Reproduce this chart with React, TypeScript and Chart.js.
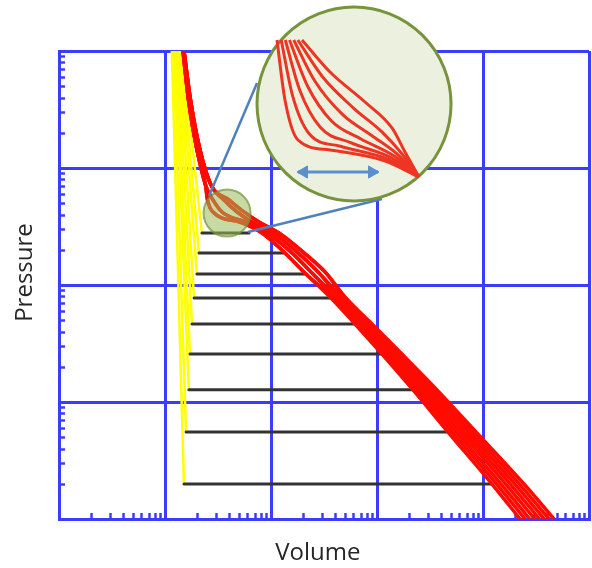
import React, { useEffect, useRef } from "react";
import { Chart, registerables } from "chart.js";

Chart.register(...registerables);

// ---------- axis ranges ----------
const volumeMin = 1;
const volumeMax = 100000;
const pressureMin = 1;
const pressureMax = 10000;

// ---------- coexistence (tie) lines ----------
const tiePressure = [278, 188, 124, 77.4, 46.4, 25.7, 12.7, 5.54, 1.99];
const tieLiquidVolume = [22.3, 20.9, 20.0, 18.8, 17.97, 17.2, 16.8, 15.8, 15.1];
const tieGasVolume = [62.0, 132.6, 213.9, 368.1, 620, 1114, 2186, 4675, 12160];

// ---------- liquid branches (yellow) ----------
const liquidTopPressure = 10000;
const liquidTopVolume = [14.47, 14.15, 13.85, 13.55, 13.1, 12.7, 12.4, 12.0, 11.6];

// ---------- gas branches (red) ----------
const gasPressure = [10000, 3811, 1425, 716, 533, 421, 345, 278, 188, 124, 77.4, 46.4, 25.7, 12.7, 5.54, 1.99, 1];
const gasVolume1 = [15.11, 17.4, 21.39, 27.16, 40.16, 55.63, 77.06, 118.9, 204.8, 337.5, 509.9, 897, 1721, 3681, 8591, 24370, 46750];
const gasVolume2 = [15.11, 17.4, 21.39, 27.16, 40.16, 55.63, 77.06, 118.9, 204.8, 337.5, 487.2, 852, 1616, 3420, 7874, 22050, 42040];
const gasVolume3 = [15.11, 17.4, 21.39, 27.16, 36.02, 47.78, 66.19, 104.5, 179.7, 289.9, 464.6, 806, 1521, 3169, 7219, 19990, 37870];
const gasVolume4 = [15.11, 17.4, 21.39, 27.16, 36.02, 47.78, 66.19, 104.5, 179.7, 289.9, 443.8, 766, 1428, 2944, 6619, 18090, 34050];
const gasVolume5 = [14.79, 16.67, 20.04, 24.11, 28.36, 34.49, 58.1, 91.68, 157.8, 249.0, 423.1, 727, 1343, 2734, 6068, 16380, 30680];
const gasVolume6 = [14.79, 16.67, 20.04, 24.11, 28.36, 34.49, 58.1, 91.68, 157.8, 249.0, 404.2, 690, 1262, 2539, 5563, 14810, 27580];
const gasVolume7 = [14.79, 16.67, 20.04, 24.11, 25.17, 28.36, 50.99, 82.25, 135.5, 213.9, 385.3, 653, 1187, 2354, 5099, 13430, 24850];
const gasVolume8 = [14.79, 16.67, 20.04, 24.11, 25.17, 28.36, 50.99, 82.25, 135.5, 213.9, 368.1, 620, 1114, 2186, 4675, 12160, 22340];
const gasVolumes = [gasVolume1, gasVolume2, gasVolume3, gasVolume4, gasVolume5, gasVolume6, gasVolume7, gasVolume8];

// ---------- magnifier ----------
const lensCenter = { v: 38.5, p: 412 };
const insetCenter = { v: 607, p: 3524 };
const calloutUpperV = [26.0, 73.8];
const calloutUpperP = [576, 5327];
const calloutLowerV = [60.7, 1114];
const calloutLowerP = [283.8, 543.3];

// magnified knee curves shown inside the inset
const zoomVolume1 = [196.1, 360.2, 770.6, 1385, 1838, 2490];
const zoomPressure1 = [12420, 6614, 3665, 2198, 1370, 838];
const zoomVolume2 = [179.0, 306.0, 604.1, 1107, 1710, 2490];
const zoomPressure2 = [12420, 6030, 3238, 2043, 1330, 838];
const zoomVolume3 = [163.8, 260.0, 474.7, 883.5, 1588, 2490];
const zoomPressure3 = [12420, 5508, 2855, 1903, 1291, 838];
const zoomVolume4 = [149.4, 221.0, 372.2, 706.5, 1478, 2490];
const zoomPressure4 = [12420, 5022, 2522, 1770, 1254, 838];
const zoomVolume5 = [136.4, 187.7, 291.8, 564.8, 1376, 2490];
const zoomPressure5 = [12420, 4579, 2228, 1645, 1218, 838];
const zoomVolume6 = [124.8, 159.5, 229.3, 450.6, 1278, 2490];
const zoomPressure6 = [12420, 4182, 1965, 1533, 1182, 838];
const zoomVolume7 = [113.9, 135.5, 179.7, 360.2, 1190, 2490];
const zoomPressure7 = [12420, 3813, 1735, 1425, 1148, 838];
const zoomCurves = [
  [zoomVolume1, zoomPressure1],
  [zoomVolume2, zoomPressure2],
  [zoomVolume3, zoomPressure3],
  [zoomVolume4, zoomPressure4],
  [zoomVolume5, zoomPressure5],
  [zoomVolume6, zoomPressure6],
  [zoomVolume7, zoomPressure7],
];

// double arrow inside the inset
const arrowPressure = 924;
const arrowLineVolume = [179.7, 1022];
const arrowHeadVolume = [204.8, 897];

// ---------- styles ----------
const BLUE = "#3c3cff";
const YELLOW = "#ffff00";
const RED = "#ff0a00";
const TIE = "#333333";
const INSET_RED = "#ee3524";
const CALLOUT = "#4f81bd";
const ARROW = "#5b8fcb";
const TEXT = "#262626";

const isDecade = (v: number) => Math.abs(Math.log10(v) - Math.round(Math.log10(v))) < 1e-9;

const minorTicks = {
  id: "minorTicks",
  beforeDatasetsDraw(chart: any) {
    const { ctx, chartArea, scales } = chart;
    const xs = scales.x;
    const ys = scales.y;
    ctx.save();
    ctx.strokeStyle = BLUE;
    ctx.lineWidth = 2.5;
    ctx.beginPath();
    for (let e = 0; e < 5; e++) {
      for (let m = 2; m <= 9; m++) {
        const px = Math.round(xs.getPixelForValue(m * Math.pow(10, e))) + 0.5;
        ctx.moveTo(px, chartArea.bottom);
        ctx.lineTo(px, chartArea.bottom - 6);
      }
    }
    for (let e = 0; e < 4; e++) {
      for (let m = 2; m <= 9; m++) {
        const py = Math.round(ys.getPixelForValue(m * Math.pow(10, e))) + 0.5;
        ctx.moveTo(chartArea.left, py);
        ctx.lineTo(chartArea.left + 6, py);
      }
    }
    ctx.stroke();
    ctx.restore();
  },
};

function buildDatasets() {
  const ds: any[] = [];
  const line = (data: any[], color: string, width: number, order: number, extra: any = {}) => ({
    data,
    showLine: true,
    borderColor: color,
    backgroundColor: color,
    borderWidth: width,
    pointRadius: 0,
    order,
    ...extra,
  });

  // liquid branches
  tieLiquidVolume.forEach((v, i) => {
    ds.push(line([{ x: liquidTopVolume[i], y: liquidTopPressure }, { x: v, y: tiePressure[i] }], YELLOW, 2.5, 80));
  });
  // tie lines
  tiePressure.forEach((p, i) => {
    ds.push(line([{ x: tieLiquidVolume[i], y: p }, { x: tieGasVolume[i], y: p }], TIE, 3, 70, { borderCapStyle: "round" }));
  });
  // gas branches
  gasVolumes.forEach((vols) => {
    ds.push(
      line(vols.map((v, j) => ({ x: v, y: gasPressure[j] })), RED, 3.5, 60, {
        cubicInterpolationMode: "monotone",
        borderJoinStyle: "round",
      })
    );
  });
  // small lens
  ds.push({
    data: [{ x: lensCenter.v, y: lensCenter.p }],
    showLine: false,
    pointRadius: 23.5,
    pointBackgroundColor: "rgba(155,187,89,0.55)",
    pointBorderColor: "rgba(118,146,60,0.7)",
    pointBorderWidth: 2,
    order: 50,
    clip: false,
  });
  // callout lines
  ds.push(line(calloutUpperV.map((v, i) => ({ x: v, y: calloutUpperP[i] })), CALLOUT, 2.5, 40, { clip: false }));
  ds.push(line(calloutLowerV.map((v, i) => ({ x: v, y: calloutLowerP[i] })), CALLOUT, 2.5, 40, { clip: false }));
  // inset circle
  ds.push({
    data: [{ x: insetCenter.v, y: insetCenter.p }],
    showLine: false,
    pointRadius: 97,
    pointBackgroundColor: "#ebf1de",
    pointBorderColor: "#77933c",
    pointBorderWidth: 3,
    order: 30,
    clip: false,
  });
  // magnified curves
  zoomCurves.forEach(([vs, ps]) => {
    ds.push(
      line(vs.map((v, j) => ({ x: v, y: ps[j] })), INSET_RED, 3, 20, {
        cubicInterpolationMode: "monotone",
        clip: false,
      })
    );
  });
  // double arrow
  ds.push(line(arrowLineVolume.map((v) => ({ x: v, y: arrowPressure })), ARROW, 3, 10, { clip: false }));
  ds.push({
    data: arrowHeadVolume.map((v) => ({ x: v, y: arrowPressure })),
    showLine: false,
    pointStyle: "triangle",
    pointRadius: 7,
    pointRotation: [-90, 90],
    pointBackgroundColor: ARROW,
    pointBorderColor: ARROW,
    pointBorderWidth: 1,
    order: 5,
    clip: false,
  });
  return ds;
}

export default function App() {
  const canvasRef = useRef<HTMLCanvasElement>(null);

  useEffect(() => {
    const canvas = canvasRef.current;
    if (!canvas) return;
    const titleFont = { family: "'Open Sans', sans-serif", size: 24, weight: "normal" as const };
    const chart = new Chart(canvas, {
      type: "scatter",
      data: { datasets: buildDatasets() },
      options: {
        responsive: false,
        animation: false,
        devicePixelRatio: 1,
        events: [],
        layout: { autoPadding: false, padding: { left: 0, top: 51, right: 3, bottom: 0 } },
        plugins: { legend: { display: false }, tooltip: { enabled: false } },
        scales: {
          x: {
            type: "logarithmic",
            position: "bottom",
            min: volumeMin,
            max: volumeMax,
            ticks: { display: false },
            grid: {
              color: (c: any) => (c.tick && isDecade(c.tick.value) ? BLUE : "rgba(0,0,0,0)"),
              lineWidth: 3,
              drawTicks: false,
            },
            border: { display: true, color: BLUE, width: 3 },
            title: { display: true, text: "Volume  ", color: TEXT, font: titleFont, padding: { top: 0, bottom: 0 } },
            afterFit: (s: any) => {
              s.height = 49;
            },
          },
          y: {
            type: "logarithmic",
            position: "left",
            min: pressureMin,
            max: pressureMax,
            ticks: { display: false },
            grid: {
              color: (c: any) => (c.tick && isDecade(c.tick.value) ? BLUE : "rgba(0,0,0,0)"),
              lineWidth: 3,
              drawTicks: false,
            },
            border: { display: true, color: BLUE, width: 3 },
            title: { display: true, text: "    Pressure", color: TEXT, font: titleFont, padding: { top: 11, bottom: 0 } },
            afterFit: (s: any) => {
              s.width = 59;
            },
          },
        },
      },
      plugins: [minorTicks],
    } as any);
    return () => chart.destroy();
  }, []);

  return (
    <div style={{ position: "absolute", left: 0, top: 0, width: 592, height: 568, background: "#ffffff" }}>
      <canvas ref={canvasRef} width={592} height={568} style={{ display: "block", width: 592, height: 568 }} />
    </div>
  );
}
